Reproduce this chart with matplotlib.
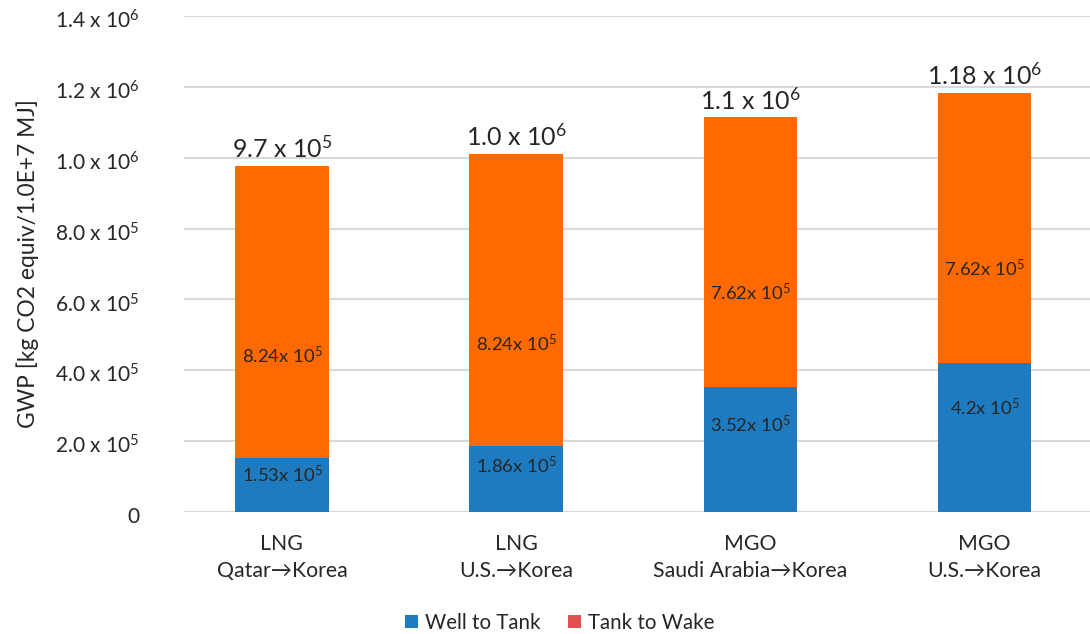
import matplotlib
matplotlib.use("Agg")
import matplotlib.pyplot as plt
import matplotlib.transforms as mtransforms
from matplotlib.patches import Patch

plt.rcParams['font.family'] = ['Lato', 'DejaVu Sans']
plt.rcParams['mathtext.fontset'] = 'custom'
plt.rcParams['mathtext.rm'] = 'Lato'
plt.rcParams['mathtext.it'] = 'Lato:italic'
plt.rcParams['mathtext.bf'] = 'Lato:bold'

# Data
categories = ["LNG\nQatar\u2192Korea", "LNG\nU.S.\u2192Korea",
              "MGO\nSaudi Arabia\u2192Korea", "MGO\nU.S.\u2192Korea"]
well_to_tank = [1.53e5, 1.86e5, 3.52e5, 4.20e5]
tank_to_wake = [8.24e5, 8.24e5, 7.62e5, 7.62e5]
wtt_labels = [r"1.53x 10$^5$", r"1.86x 10$^5$", r"3.52x 10$^5$", r"4.2x 10$^5$"]
ttw_labels = [r"8.24x 10$^5$", r"8.24x 10$^5$", r"7.62x 10$^5$", r"7.62x 10$^5$"]
total_labels = [r"9.7 x 10$^5$", r"1.0 x 10$^6$", r"1.1 x 10$^6$", r"1.18 x 10$^6$"]
ytick_values = [0, 2e5, 4e5, 6e5, 8e5, 1.0e6, 1.2e6, 1.4e6]
ytick_labels = ["0", r"2.0 x 10$^5$", r"4.0 x 10$^5$", r"6.0 x 10$^5$", r"8.0 x 10$^5$",
                r"1.0 x 10$^6$", r"1.2 x 10$^6$", r"1.4 x 10$^6$"]

blue = "#1f7bbf"
orange = "#ff6a00"
legend_red = "#e05252"
text_color = "#262626"

fig = plt.figure(figsize=(10.9, 6.34), dpi=100)
ax = fig.add_axes([0.1688, 0.1924, 0.8312, 0.7824])

x = list(range(len(categories)))
width = 0.40
ax.bar(x, well_to_tank, width, color=blue, zorder=3)
ax.bar(x, tank_to_wake, width, bottom=well_to_tank, color=orange, zorder=3)

for i in x:
    w, t = well_to_tank[i], tank_to_wake[i]
    ax.text(i, 0.7 * w, wtt_labels[i], ha='center', va='center', fontsize=13.3,
            color=text_color, zorder=4)
    ax.text(i, w + 0.35 * t, ttw_labels[i], ha='center', va='center', fontsize=13.3,
            color=text_color, zorder=4)
    ax.annotate(total_labels[i], (i, w + t), xytext=(0, 3), textcoords='offset points',
                ha='center', va='bottom', fontsize=18, color=text_color, zorder=4)

ax.set_xlim(-0.418, 3.45)
ax.set_ylim(0, 1.4e6)
ax.set_yticks(ytick_values)
ax.set_yticklabels(ytick_labels, fontsize=15, color=text_color)
ax.set_xticks(x)
ax.set_xticklabels(categories, fontsize=15.3, color=text_color, linespacing=1.4)
ax.tick_params(axis='both', length=0)
ax.tick_params(axis='y', pad=32)
ax.tick_params(axis='x', pad=16)
shift = mtransforms.ScaledTranslation(0, -5 / 100, fig.dpi_scale_trans)
for lbl in ax.get_yticklabels():
    lbl.set_va('center')
    lbl.set_transform(lbl.get_transform() + shift)

ax.yaxis.grid(True, color='#d9d9d9', linewidth=1.5, zorder=0)
ax.set_axisbelow(True)
for s in ax.spines.values():
    s.set_visible(False)

ax.set_ylabel("GWP [kg CO2 equiv/1.0E+7 MJ]", fontsize=16.4, color=text_color)
ax.yaxis.set_label_coords(-0.16, 0.5)

handles = [Patch(facecolor=blue, label="Well to Tank"),
           Patch(facecolor=legend_red, label="Tank to Wake")]
fig.legend(handles=handles, loc='center', bbox_to_anchor=(560 / 1090, 1 - 623 / 634),
           ncol=2, frameon=False, fontsize=14.8, handlelength=0.62, handleheight=0.62,
           handletextpad=0.35, columnspacing=1.35, labelcolor=text_color,
           borderpad=0, borderaxespad=0)

fig.savefig("out.png", dpi=100)
